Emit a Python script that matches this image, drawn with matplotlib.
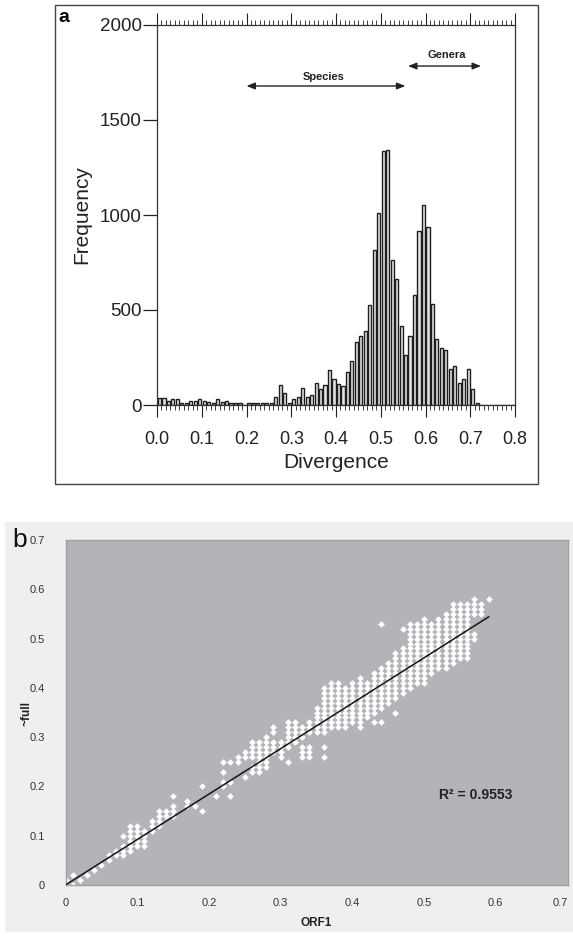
import numpy as np
import matplotlib
matplotlib.use("Agg")
import matplotlib.pyplot as plt
from matplotlib.patches import Rectangle
from matplotlib.ticker import MultipleLocator, FuncFormatter

plt.rcParams['font.family'] = ['Liberation Sans', 'DejaVu Sans']

# ---- panel a: divergence histogram (bins of 0.01) ----
div_bins = np.round(np.arange(80) * 0.01, 2)
freq = [35, 35, 23, 30, 30, 9, 9, 23, 23, 30,
        23, 17, 9, 30, 17, 23, 9, 9, 9, 0,
        9, 9, 9, 9, 9, 9, 40, 105, 65, 9,
        30, 40, 91, 44, 52, 117, 82, 105, 184, 135,
        108, 100, 175, 231, 332, 364, 392, 528, 816, 1010,
        1335, 1340, 764, 664, 414, 262, 364, 580, 918, 1054,
        935, 533, 350, 301, 288, 192, 205, 117, 136, 190,
        84, 9, 0, 0, 0, 0, 0, 0, 0, 0]
species_span = (0.20, 0.555)
genera_span = (0.561, 0.724)

# ---- panel b: ORF1 vs full distance (values in hundredths, column -> y list) ----
orf1_cols = {
    0: [1], 1: [0, 2], 2: [1], 3: [2], 4: [3], 5: [4],
    6: [5, 6], 7: [6, 7], 8: [6, 7, 8, 10],
    9: [7, 8, 9, 10, 11, 12], 10: [8, 9, 10, 11, 12], 11: [8, 9, 10, 11],
    12: [11, 12, 13], 13: [12, 13, 14, 15], 14: [14, 15], 15: [14, 15, 16, 18],
    17: [16, 17], 18: [16], 19: [15, 20], 21: [18],
    22: [20, 21, 23, 25], 23: [18, 21, 25], 24: [25, 26], 25: [22, 26, 27],
    26: [23, 24, 26, 27, 28, 29], 27: [23, 24, 25, 26, 27, 28, 29],
    28: [24, 25, 26, 27, 28, 29, 30], 29: [27, 28, 29, 31, 32],
    30: [26, 27, 28, 29], 31: [25, 28, 29, 30, 31, 32, 33],
    32: [29, 30, 31, 32, 33], 33: [26, 27, 28, 30, 31, 32],
    34: [26, 27, 28, 31, 32, 33], 35: [31, 32, 33, 34, 35, 36],
    36: [26, 28, 31, 32, 33, 34, 35, 36, 37, 38, 39, 40],
    37: [32, 33, 34, 35, 36, 37, 38, 39, 40, 41],
    38: [32, 33, 34, 35, 36, 37, 38, 39, 40, 41],
    39: [32, 33, 34, 35, 36, 37, 38, 39, 40],
    40: [33, 34, 35, 36, 37, 38, 39, 40, 41],
    41: [32, 33, 34, 35, 36, 37, 38, 39, 40, 41, 42],
    42: [34, 35, 36, 37, 38, 39, 40, 41],
    43: [33, 35, 36, 37, 38, 39, 40, 41, 42, 43],
    44: [33, 36, 37, 38, 39, 40, 41, 42, 43, 44, 53],
    45: [37, 38, 39, 40, 41, 42, 43, 44, 45],
    46: [35, 38, 39, 40, 41, 42, 43, 44, 45, 46, 47],
    47: [39, 40, 41, 42, 43, 44, 45, 46, 47, 48, 52],
    48: [40, 41, 42, 43, 44, 45, 46, 47, 48, 49, 50, 51, 52, 53],
    49: [41, 42, 43, 44, 45, 46, 47, 48, 49, 50, 51, 52, 53],
    50: [41, 42, 43, 44, 45, 46, 47, 48, 49, 50, 51, 52, 53, 54],
    51: [43, 44, 45, 46, 47, 48, 49, 50, 51, 52, 53],
    52: [44, 45, 46, 47, 48, 49, 50, 51, 52, 53, 54],
    53: [44, 45, 46, 47, 48, 49, 50, 51, 52, 53, 54, 55],
    54: [45, 46, 47, 48, 49, 50, 51, 52, 53, 54, 55, 56, 57],
    55: [46, 47, 48, 49, 50, 51, 52, 53, 54, 55, 56, 57],
    56: [46, 47, 48, 49, 50, 51, 52, 53, 54, 55, 56, 57],
    57: [50, 51, 55, 56, 57, 58],
    58: [55, 56, 57],
    59: [58],
}
trend_x = [0.0, 0.59]
trend_y = [0.0, 0.544]
r2_text = "R² = 0.9553"

W, H = 573, 939
fig = plt.figure(figsize=(W / 100, H / 100), dpi=100)

# frame around panel a
fig.patches.append(Rectangle((55 / W, 1 - 484 / H), 483 / W, 479 / H, transform=fig.transFigure,
                             fill=False, edgecolor='#444444', lw=1.0))
# light background of panel b
fig.patches.append(Rectangle((5 / W, 1 - 932 / H), 568 / W, 410 / H, transform=fig.transFigure,
                             facecolor='#efefef', edgecolor='none', zorder=-1))

ax = fig.add_axes([157 / W, 1 - 405 / H, 358 / W, 380 / H])
ax.bar(div_bins + 0.002, freq, width=0.007, align='edge', color='#e4e4e4',
       edgecolor='#1e1e1e', lw=1.0)
ax.set_xlim(0, 0.8)
ax.set_ylim(0, 2000)
ax.xaxis.set_major_locator(MultipleLocator(0.1))
ax.xaxis.set_minor_locator(MultipleLocator(0.01))
ax.xaxis.set_major_formatter(FuncFormatter(lambda v, p: f"{v:.1f}"))
ax.set_yticks([0, 500, 1000, 1500, 2000])
ax.tick_params(axis='x', which='both', bottom=True, top=True, direction='out', colors='#222222')
ax.tick_params(axis='x', which='major', length=8.5, width=0.8, pad=10, labelsize=13)
ax.tick_params(axis='x', which='minor', length=3.5, width=0.6)
ax.tick_params(axis='y', length=10, width=0.9, pad=1, labelsize=13.5, colors='#222222')
for s in ax.spines.values():
    s.set_color('#333333')
    s.set_linewidth(0.9)
ax.set_xlabel('Divergence', fontsize=15, color='#222222', labelpad=4)
ax.set_ylabel('Frequency', fontsize=15, color='#222222', labelpad=6)

arrow_kw = dict(arrowstyle='<|-|>,head_length=0.5,head_width=0.2', color='#222222', lw=1.0,
                shrinkA=0, shrinkB=0)
ax.annotate('', xy=(species_span[0], 1679), xytext=(species_span[1], 1679), arrowprops=arrow_kw)
ax.annotate('', xy=(genera_span[0], 1784), xytext=(genera_span[1], 1784), arrowprops=arrow_kw)
ax.text(0.373, 1726, 'Species', ha='center', va='center', fontsize=8, fontweight='bold', color='#222222')
ax.text(0.648, 1842, 'Genera', ha='center', va='center', fontsize=8, fontweight='bold', color='#222222')
fig.text(64 / W, 1 - 18 / H, 'a', fontsize=14, fontweight='bold', ha='center', va='center')

# ---- panel b ----
xs, ys = [], []
for col, vals in orf1_cols.items():
    for v in vals:
        xs.append(col / 100)
        ys.append(v / 100)

bx = fig.add_axes([65.5 / W, 1 - 885 / H, 502 / W, 345 / H])
bx.set_facecolor('#b3b4b8')
bx.plot(xs, ys, 'D', color='white', ms=3.4, mec='none', zorder=2)
bx.plot(trend_x, trend_y, color='#151515', lw=1.1, zorder=3)
bx.set_xlim(0, 0.7)
bx.set_ylim(0, 0.7)
ticks = [0, 0.1, 0.2, 0.3, 0.4, 0.5, 0.6, 0.7]
fmt = FuncFormatter(lambda v, p: '0' if abs(v) < 1e-9 else f"{v:.1f}")
bx.set_xticks(ticks)
bx.set_yticks(ticks)
bx.xaxis.set_major_formatter(fmt)
bx.yaxis.set_major_formatter(fmt)
bx.tick_params(axis='both', length=0, labelsize=8, colors='#333333')
bx.tick_params(axis='x', pad=9)
bx.tick_params(axis='y', pad=15)
# last x label sits at the right edge of the figure; keep it inside
fig.canvas.draw()
bx.get_xticklabels()[-1].set_horizontalalignment('right')
for s in bx.spines.values():
    s.set_color('#a0a0a0')
    s.set_linewidth(1.0)
bx.text(0.521, 0.183, r2_text, fontsize=10, fontweight='bold', va='center', color='#222222')
fig.text(316 / W, 1 - 923 / H, 'ORF1', fontsize=8.5, fontweight='bold', ha='center', va='center',
         color='#222222')
fig.text(27 / W, 1 - 713 / H, '~full', fontsize=8.5, fontweight='bold', ha='center', va='center',
         rotation=90, color='#222222')
fig.text(20 / W, 1 - 540 / H, 'b', fontsize=19, ha='center', va='center', color='#111111')

fig.savefig('out.png', dpi=100)
